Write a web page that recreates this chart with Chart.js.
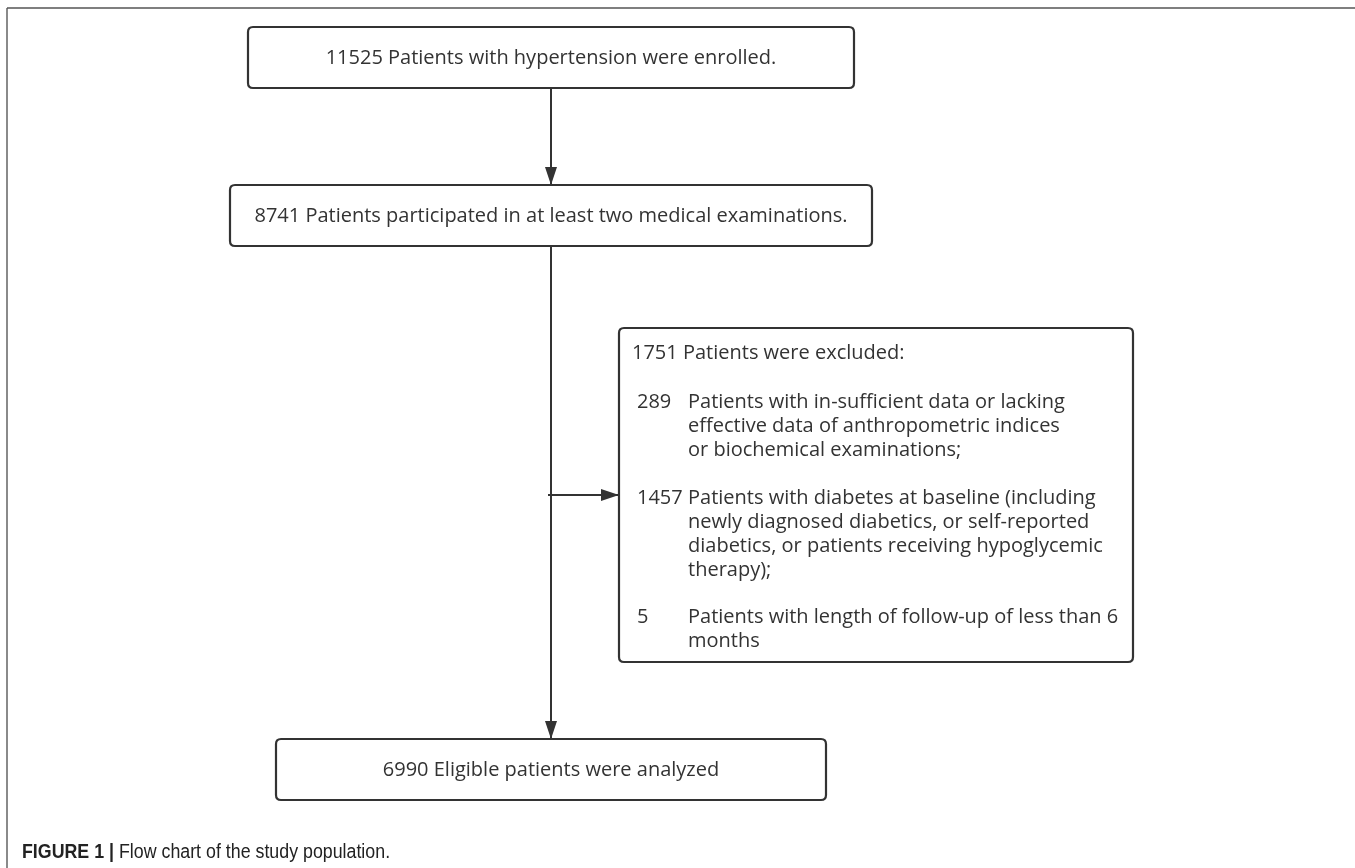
<!DOCTYPE html>
<html>
<head>
<meta charset="utf-8">
<script src="https://cdn.jsdelivr.net/npm/chart.js@4/dist/chart.umd.min.js"></script>
<style>
  html, body { margin: 0; padding: 0; background: #ffffff; }
  #wrap { width: 1355px; height: 868px; }
</style>
</head>
<body>
<div id="wrap"><canvas id="c" width="1355" height="868"></canvas></div>
<script>
// ---- data ----
const stepCounts = [11525, 8741, 6990];
const stepTexts = [
  "Patients with hypertension were enrolled.",
  "Patients participated in at least two medical examinations.",
  "Eligible patients were analyzed"
];
const excludedCount = 1751;
const excludedHeader = "Patients were excluded:";
const exclusionCounts = [289, 1457, 5];
const exclusionTexts = [
  ["Patients with in-sufficient data or lacking", "effective data of anthropometric indices", "or biochemical examinations;"],
  ["Patients with diabetes at baseline (including", "newly diagnosed diabetics, or self-reported", "diabetics, or patients receiving hypoglycemic", "therapy);"],
  ["Patients with length of follow-up of less than 6", "months"]
];
const captionBold = "FIGURE 1 |";
const captionText = "Flow chart of the study population.";

// ---- layout (canvas coordinate space used by the scales) ----
const layout = {
  steps: [
    { x0: 248, x1: 854, y0: 27, y1: 88 },
    { x0: 230, x1: 872, y0: 185, y1: 246 },
    { x0: 276, x1: 826, y0: 739, y1: 800 }
  ],
  exBox: { x0: 619, x1: 1133, y0: 328, y1: 662 },
  exHeaderY: 353,
  exLinesY: [[402, 426, 450], [498, 522, 546, 570], [617, 641]],
  exHeaderX: 632, exNumX: 637, exTextX: 688,
  spineX: 551, branchY: 495, branchStartX: 548,
  captionX: 22, captionY: 858
};

const INK = '#333333';
const FONT = '"Open Sans", "Noto Sans", sans-serif';

const connectors = [
  { data: [{x: layout.spineX, y: layout.steps[0].y1}, {x: layout.spineX, y: layout.steps[1].y0}], head: 'down' },
  { data: [{x: layout.spineX, y: layout.steps[1].y1}, {x: layout.spineX, y: layout.steps[2].y0}], head: 'down' },
  { data: [{x: layout.branchStartX, y: layout.branchY}, {x: layout.exBox.x0, y: layout.branchY}], head: 'right' }
];

function roundRect(ctx, x, y, w, h, r) {
  ctx.beginPath();
  ctx.moveTo(x + r, y);
  ctx.lineTo(x + w - r, y);
  ctx.quadraticCurveTo(x + w, y, x + w, y + r);
  ctx.lineTo(x + w, y + h - r);
  ctx.quadraticCurveTo(x + w, y + h, x + w - r, y + h);
  ctx.lineTo(x + r, y + h);
  ctx.quadraticCurveTo(x, y + h, x, y + h - r);
  ctx.lineTo(x, y + r);
  ctx.quadraticCurveTo(x, y, x + r, y);
  ctx.closePath();
}

const flowPlugin = {
  id: 'flow',
  afterDatasetsDraw(chart) {
    const ctx = chart.ctx;
    const sx = chart.scales.x, sy = chart.scales.y;
    const px = v => sx.getPixelForValue(v);
    const py = v => sy.getPixelForValue(v);
    ctx.save();

    // frame
    ctx.strokeStyle = '#8a8a8a';
    ctx.lineWidth = 2;
    ctx.beginPath(); ctx.moveTo(px(7), py(8)); ctx.lineTo(px(7), py(868)); ctx.stroke();
    ctx.strokeStyle = '#555555';
    ctx.lineWidth = 1.5;
    ctx.beginPath(); ctx.moveTo(px(7), py(8)); ctx.lineTo(px(1355), py(8)); ctx.stroke();

    // arrow heads
    ctx.fillStyle = INK;
    connectors.forEach(c => {
      const end = c.data[c.data.length - 1];
      const ex = px(end.x), ey = py(end.y);
      ctx.beginPath();
      if (c.head === 'down') {
        ctx.moveTo(ex, ey); ctx.lineTo(ex - 6, ey - 18); ctx.lineTo(ex + 6, ey - 18);
      } else {
        ctx.moveTo(ex, ey); ctx.lineTo(ex - 18, ey - 6); ctx.lineTo(ex - 18, ey + 6);
      }
      ctx.closePath(); ctx.fill();
    });

    // step boxes
    ctx.strokeStyle = INK;
    ctx.lineWidth = 2.2;
    ctx.font = '20px ' + FONT;
    ctx.textAlign = 'center';
    ctx.textBaseline = 'middle';
    layout.steps.forEach((b, i) => {
      const x0 = px(b.x0), x1 = px(b.x1), y0 = py(b.y0), y1 = py(b.y1);
      ctx.fillStyle = '#ffffff';
      roundRect(ctx, x0, y0, x1 - x0, y1 - y0, 5);
      ctx.fill(); ctx.stroke();
      ctx.fillStyle = INK;
      ctx.fillText(stepCounts[i] + ' ' + stepTexts[i], (x0 + x1) / 2, (y0 + y1) / 2 + 1);
    });

    // exclusion box
    const e = layout.exBox;
    const ex0 = px(e.x0), ex1 = px(e.x1), ey0 = py(e.y0), ey1 = py(e.y1);
    ctx.fillStyle = '#ffffff';
    roundRect(ctx, ex0, ey0, ex1 - ex0, ey1 - ey0, 5);
    ctx.fill(); ctx.stroke();
    ctx.fillStyle = INK;
    ctx.textAlign = 'left';
    ctx.fillText(excludedCount + ' ' + excludedHeader, px(layout.exHeaderX), py(layout.exHeaderY));
    exclusionCounts.forEach((n, i) => {
      const ys = layout.exLinesY[i];
      ctx.fillText(String(n), px(layout.exNumX), py(ys[0]));
      exclusionTexts[i].forEach((t, j) => {
        ctx.fillText(t, px(layout.exTextX), py(ys[j]));
      });
    });

    // caption (condensed sans)
    ctx.textBaseline = 'alphabetic';
    ctx.fillStyle = '#222222';
    ctx.translate(px(layout.captionX), py(layout.captionY));
    ctx.scale(0.89, 1);
    ctx.font = 'bold 20px "Liberation Sans", Arial, sans-serif';
    ctx.fillText(captionBold, 0, 0);
    const wb = ctx.measureText(captionBold + ' ').width;
    ctx.font = '20px "Liberation Sans", Arial, sans-serif';
    ctx.fillText(captionText, wb, 0);
    ctx.restore();
  }
};

new Chart(document.getElementById('c'), {
  type: 'scatter',
  data: {
    datasets: connectors.map(c => ({
      data: c.data,
      showLine: true,
      borderColor: INK,
      borderWidth: 2,
      pointRadius: 0,
      pointHoverRadius: 0,
      fill: false
    }))
  },
  options: {
    responsive: false,
    animation: false,
    events: [],
    layout: { padding: 0 },
    plugins: { legend: { display: false }, tooltip: { enabled: false }, title: { display: false } },
    scales: {
      x: { type: 'linear', min: 0, max: 1355, display: false },
      y: { type: 'linear', min: 0, max: 868, reverse: true, display: false }
    }
  },
  plugins: [flowPlugin]
});
</script>
</body>
</html>
